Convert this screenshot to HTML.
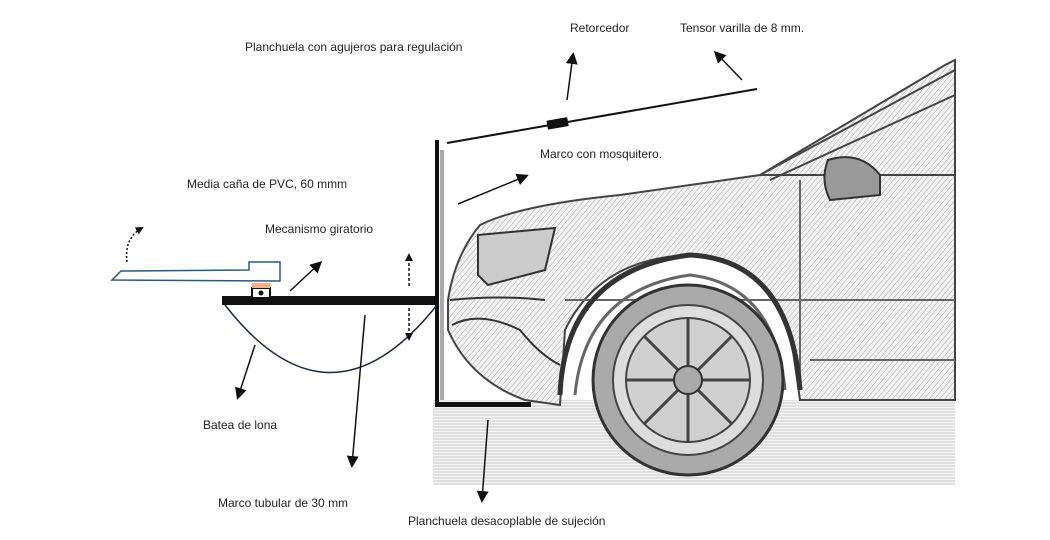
<!DOCTYPE html>
<html><head><style>
body{margin:0;background:#fff;width:1050px;height:540px;overflow:hidden;font-family:"Liberation Sans",sans-serif}
svg{position:absolute;left:0;top:0}
.t{font-size:12px;fill:#222}
</style></head><body>
<svg width="1050" height="540" viewBox="0 0 1050 540">
<defs>
<marker id="a" markerWidth="8" markerHeight="8" refX="6" refY="4" orient="auto" markerUnits="userSpaceOnUse"><path d="M0,0 L8,4 L0,8 Z" fill="#111"/></marker>
<marker id="b" markerWidth="12" markerHeight="12" refX="9" refY="6" orient="auto" markerUnits="userSpaceOnUse"><path d="M0,0 L12,6 L0,12 Z" fill="#111"/></marker>
<pattern id="h" width="4" height="4" patternUnits="userSpaceOnUse" patternTransform="rotate(40)"><rect width="4" height="4" fill="#f2f2f2"/><line x1="0" y1="0" x2="0" y2="4" stroke="#aaa" stroke-width="1"/></pattern>
<pattern id="g" width="5" height="3" patternUnits="userSpaceOnUse"><rect width="5" height="3" fill="#f4f4f4"/><line x1="0" y1="1" x2="5" y2="1" stroke="#ccc" stroke-width="1"/></pattern>
</defs>
<!-- car sketch -->
<g fill="none" stroke="#666" stroke-width="2">
<rect x="433" y="400" width="522" height="85" fill="url(#g)" stroke="none"/>
<path d="M448,300 Q455,255 480,225 Q520,205 620,195 L760,175 L945,65 L955,60 L955,400 L800,400 L790,330 Q760,260 690,255 Q600,258 565,330 L560,405 L525,400 Q470,380 448,330 Z" fill="url(#h)" stroke="#444"/>
<path d="M760,175 L955,70 M770,180 L955,95 M760,175 L955,175" stroke="#444"/>
<path d="M800,180 L800,390 M565,300 L955,300 M810,360 L955,360" stroke="#666"/>
<path d="M828,160 Q860,150 880,175 L880,195 L830,200 Q820,180 828,160 Z" fill="#999" stroke="#333"/>
<path d="M478,235 L555,228 L545,270 L488,285 L478,275 Z" fill="#ccc" stroke="#333"/>
<path d="M450,300 Q500,295 545,300 M452,325 Q480,310 520,330 Q540,355 560,365" stroke="#333"/>
<path d="M560,395 Q565,270 690,255 Q790,260 800,390" stroke="#333" stroke-width="5"/>
<path d="M575,395 Q585,290 690,275 Q775,285 785,390" stroke="#666" stroke-width="3"/>
<circle cx="688" cy="380" r="95" fill="#aaa" stroke="#333" stroke-width="3"/>
<circle cx="688" cy="380" r="75" fill="#ddd" stroke="#444"/>
<circle cx="688" cy="380" r="62" fill="#d0d0d0" stroke="#444" stroke-width="2"/>
<g stroke="#444" stroke-width="3"><path d="M688,318 V442 M626,380 H750 M644,336 L732,424 M732,336 L644,424"/></g>
<circle cx="688" cy="380" r="14" fill="#aaa" stroke="#333"/>
</g>
<!-- frame -->
<rect x="435" y="140" width="4" height="266" fill="#111"/>
<rect x="440" y="150" width="4" height="250" fill="#aaa"/>
<rect x="435" y="402" width="96" height="5" fill="#111"/>
<line x1="447" y1="143" x2="757" y2="89" stroke="#111" stroke-width="2"/>
<rect x="547" y="119" width="21" height="9" fill="#111" transform="rotate(-10 557 123)"/>
<!-- platform -->
<rect x="222" y="296" width="215" height="9" fill="#111"/>
<path d="M225,305 Q330,440 437,305" fill="none" stroke="#1a2a3a" stroke-width="1.5"/>
<rect x="252" y="288" width="18" height="10" fill="#fff" stroke="#111" stroke-width="2"/>
<circle cx="261" cy="293" r="2.5" fill="#111"/>
<rect x="252" y="283" width="18" height="5" fill="#f0b08a"/>
<path d="M112,280 L121,271 L249,270 L249,262 L280,262 L280,281 Z" fill="#fff" stroke="#2a5a7a" stroke-width="1.5"/>
<!-- arrows -->
<g stroke="#111" stroke-width="1.5" fill="none">
<line x1="567" y1="100" x2="573" y2="55" marker-end="url(#b)"/>
<line x1="742" y1="80" x2="716" y2="53" marker-end="url(#b)"/>
<line x1="458" y1="204" x2="526" y2="176" marker-end="url(#b)"/>
<line x1="488" y1="420" x2="482" y2="500" marker-end="url(#b)"/>
<line x1="365" y1="315" x2="352" y2="465" marker-end="url(#b)"/>
<line x1="255" y1="345" x2="238" y2="397" marker-end="url(#b)"/>
<line x1="290" y1="291" x2="320" y2="263" marker-end="url(#b)"/>
<line x1="409" y1="286" x2="409" y2="255" stroke-dasharray="3,2" marker-end="url(#a)"/>
<line x1="409" y1="308" x2="409" y2="339" stroke-dasharray="3,2" marker-end="url(#a)"/>
<path d="M127,262 Q124,238 142,228" stroke-dasharray="2,2" marker-end="url(#a)"/>
</g>
<!-- labels -->
<text class="t" x="245" y="51">Planchuela con agujeros para regulación</text>
<text class="t" x="570" y="32">Retorcedor</text>
<text class="t" x="680" y="32">Tensor varilla de 8 mm.</text>
<text class="t" x="540" y="158">Marco con mosquitero.</text>
<text class="t" x="187" y="188">Media caña de PVC, 60 mmm</text>
<text class="t" x="265" y="233">Mecanismo giratorio</text>
<text class="t" x="203" y="429">Batea de lona</text>
<text class="t" x="218" y="507">Marco tubular de 30 mm</text>
<text class="t" x="408" y="525">Planchuela desacoplable de sujeción</text>
</svg>
</body></html>
